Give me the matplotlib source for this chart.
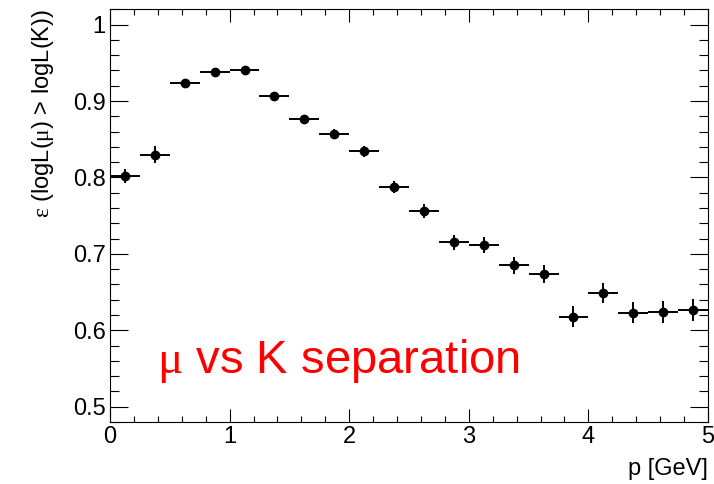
import matplotlib
matplotlib.use('Agg')
import matplotlib.pyplot as plt
from matplotlib.ticker import MultipleLocator, FuncFormatter

plt.rcParams['font.family'] = ['Liberation Sans', 'DejaVu Sans']
plt.rcParams['mathtext.fontset'] = 'custom'
plt.rcParams['mathtext.rm'] = 'Liberation Serif'
plt.rcParams['mathtext.it'] = 'Liberation Serif:italic'

# momentum bin centres [GeV], half bin width 0.125
p_centers = [0.125, 0.375, 0.625, 0.875, 1.125, 1.375, 1.625, 1.875, 2.125, 2.375,
             2.625, 2.875, 3.125, 3.375, 3.625, 3.875, 4.125, 4.375, 4.625, 4.875]
p_halfwidth = 0.125

eff = [0.802, 0.830, 0.924, 0.938, 0.940, 0.906, 0.877, 0.857, 0.834, 0.787,
       0.756, 0.715, 0.712, 0.685, 0.674, 0.618, 0.649, 0.623, 0.624, 0.627]
eff_err = [0.009, 0.011, 0.004, 0.004, 0.004, 0.005, 0.005, 0.006, 0.0075, 0.008,
           0.009, 0.010, 0.0105, 0.011, 0.0115, 0.0135, 0.0135, 0.014, 0.0145, 0.0145]

fig = plt.figure(figsize=(7.14, 4.84), dpi=100)
ax = fig.add_axes([0.15406, 0.1281, 0.83754, 0.8527])

ax.errorbar(p_centers, eff, xerr=p_halfwidth, yerr=eff_err, fmt='o', color='black',
            ms=6, elinewidth=1.4, capsize=0)

ax.set_xlim(0, 5)
ax.set_ylim(0.48, 1.02)

ax.xaxis.set_major_locator(MultipleLocator(1))
ax.xaxis.set_minor_locator(MultipleLocator(0.2))
ax.yaxis.set_major_locator(MultipleLocator(0.1))
ax.yaxis.set_minor_locator(MultipleLocator(0.02))
ax.yaxis.set_major_formatter(FuncFormatter(lambda v, pos: f"{v:g}"))

ax.tick_params(which='both', direction='in', top=True, right=True,
               labelsize=17, width=0.8, color='black')
ax.tick_params(axis='y', which='major', length=13, pad=3)
ax.tick_params(axis='y', which='minor', length=6.5)
ax.tick_params(axis='x', which='major', length=9.4, pad=3)
ax.tick_params(axis='x', which='minor', length=4.5)
for s in ax.spines.values():
    s.set_linewidth(0.8)

ax.set_xlabel('p [GeV]', fontsize=17, loc='right')
ax.xaxis.set_label_coords(1.0, -0.087)
ax.set_ylabel(r'$\mathrm{\varepsilon}$ (logL($\mathrm{\mu}$) > logL(K))', fontsize=17, loc='top')
ax.yaxis.set_label_coords(-0.09, 1.0)

ax.text(0.393, 0.5447, r'$\mathrm{\mu}$ vs K separation', color='red', fontsize=34,
        ha='left', va='baseline')

fig.savefig('out.png', dpi=100)
